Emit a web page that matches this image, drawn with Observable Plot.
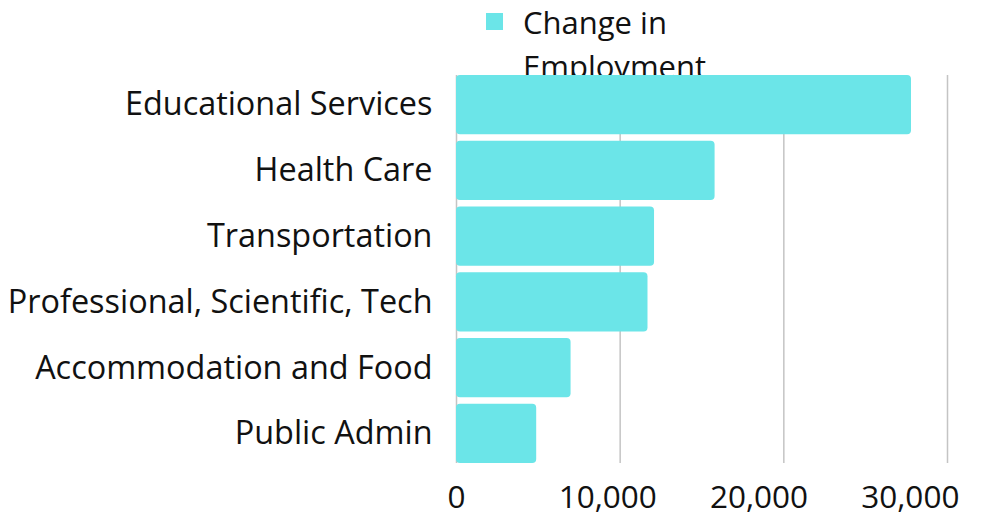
<!DOCTYPE html>
<html><head><meta charset="utf-8">
<script src="https://cdn.jsdelivr.net/npm/d3@7"></script>
<script src="https://cdn.jsdelivr.net/npm/@observablehq/plot@0.6"></script>
<style>
html,body{margin:0;padding:0;background:#fff;}
#wrap{position:relative;width:1003px;height:515px;font-family:"Open Sans", sans-serif;font-variant-ligatures:none;}
#legend{position:absolute;left:486px;top:0;display:flex;align-items:flex-start;font-size:31px;line-height:44px;color:#111;}
#legend .sw{width:17px;height:17px;background:#6be5e8;margin-top:13px;margin-right:20px;flex:none;}
#legend .tx{width:200px;}
#chart{position:absolute;left:0;top:0;}
#chart svg{font-variant-ligatures:none;}
</style></head><body>
<div id="wrap"><div id="legend"><div class="sw"></div><div class="tx" id="legtext"></div></div><div id="chart"></div></div>
<script>
const categories = ["Educational Services","Health Care","Transportation","Professional, Scientific, Tech","Accommodation and Food","Public Admin"];
const values = [27800, 15800, 12100, 11700, 7000, 4900];
const xTicks = [0, 10000, 20000, 30000];
const seriesName = "Change in Employment";
const barColor = "#6be5e8";

document.getElementById("legtext").textContent = seriesName;
const data = categories.map((c, i) => ({category: c, value: values[i]}));
// the reference's tick labels are spaced a bit tighter than its gridlines
const labelSpread = 151.3 / 163.7;
const fmt = d3.format(",");

const plot = Plot.plot({
  width: 1003, height: 515,
  marginLeft: 456, marginRight: 56, marginTop: 75, marginBottom: 52,
  style: {fontFamily: "'Open Sans', sans-serif", fontSize: "32.4px", color: "#111", background: "transparent", overflow: "visible"},
  x: {domain: [0, 30000], axis: null},
  y: {domain: categories, paddingInner: 0.1, paddingOuter: 0, round: false},
  marks: [
    Plot.gridX(xTicks, {stroke: "#c4c4c4", strokeOpacity: 1, strokeWidth: 1.5}),
    Plot.barX(data, {x: "value", y: "category", fill: barColor, rx: 4}),
    Plot.axisY({tickSize: 0, tickPadding: 24, label: null, fill: "#111"}),
    Plot.text(xTicks, {x: d => d * labelSpread, frameAnchor: "bottom", lineAnchor: "top", dy: 22, text: d => fmt(d), fill: "#111", fontSize: 31.5})
  ]
});
document.getElementById("chart").appendChild(plot);
</script>
</body></html>
